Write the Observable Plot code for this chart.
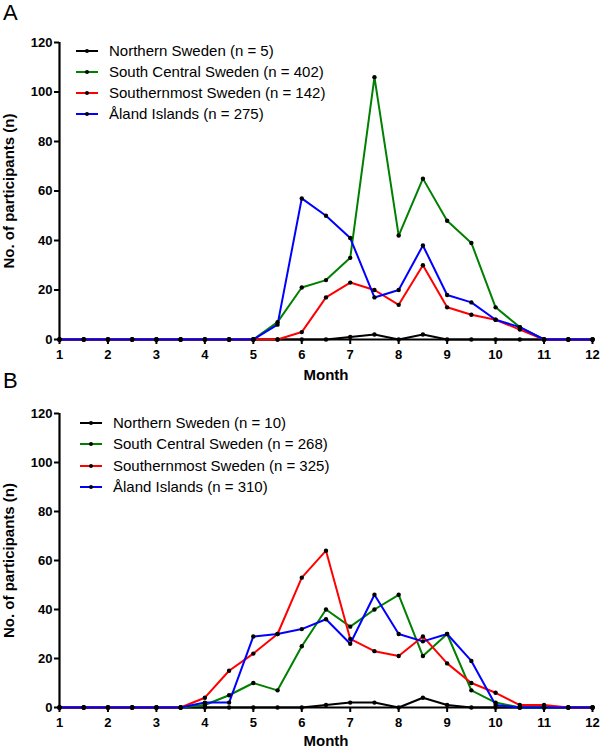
<!DOCTYPE html>
<html><head><meta charset="utf-8">
<script src="https://cdn.jsdelivr.net/npm/d3@7"></script>
<script src="https://cdn.jsdelivr.net/npm/@observablehq/plot@0.6"></script>
<style>
body{margin:0;background:#fff;font-family:"Liberation Sans",Arial,sans-serif;}
#root{position:relative;width:600px;height:749px;overflow:hidden;background:#fff;}
.panel{position:absolute;left:0;}
.panel svg text{font-weight:bold;}
.panel g[aria-label="x-axis label"] text,.panel g[aria-label="y-axis label"] text{font-size:15px;}
.letter{position:absolute;left:3px;font-size:22px;line-height:1;}
.legend-row{position:absolute;height:20px;display:flex;align-items:center;font-size:15px;white-space:nowrap;color:#000;}
.legend-row svg{margin-right:11px;}
</style></head><body><div id="root"></div>
<script>
const months = [1,1.5,2,2.5,3,3.5,4,4.5,5,5.5,6,6.5,7,7.5,8,8.5,9,9.5,10,10.5,11,11.5,12];
const xTicks = [1,2,3,4,5,6,7,8,9,10,11,12];
const yTicks = [0,20,40,60,80,100,120];
const seriesColors = ["#000000","#008000","#ff0000","#0000ff"];
const namesA = ["Northern Sweden (n = 5)","South Central Sweden (n = 402)","Southernmost Sweden (n = 142)","Åland Islands (n = 275)"];
const namesB = ["Northern Sweden (n = 10)","South Central Sweden (n = 268)","Southernmost Sweden (n = 325)","Åland Islands (n = 310)"];

const aNorthern     = [0,0,0,0,0,0,0,0,0,0,0,0,1,2,0,2,0,0,0,0,0,0,0];
const aSouthCentral = [0,0,0,0,0,0,0,0,0,7,21,24,33,106,42,65,48,39,13,5,0,0,0];
const aSouthernmost = [0,0,0,0,0,0,0,0,0,0,3,17,23,20,14,30,13,10,8,4,0,0,0];
const aAland        = [0,0,0,0,0,0,0,0,0,6,57,50,41,17,20,38,18,15,8,5,0,0,0];

const bNorthern     = [0,0,0,0,0,0,0,0,0,0,0,1,2,2,0,4,1,0,0,0,0,0,0];
const bSouthCentral = [0,0,0,0,0,0,1,5,10,7,25,40,33,40,46,21,30,7,2,0,0,0,0];
const bSouthernmost = [0,0,0,0,0,0,4,15,22,30,53,64,28,23,21,29,18,10,6,1,1,0,0];
const bAland        = [0,0,0,0,0,0,2,2,29,30,32,36,26,46,30,27,30,19,1,0,0,0,0];

function table(names, arrays) {
  const rows = [];
  names.forEach((name, i) => arrays[i].forEach((v, j) => rows.push({series: name, month: months[j], value: v})));
  return rows;
}

function panel(names, arrays, {height, marginTop, marginBottom, labelOffset}) {
  const data = table(names, arrays);
  return Plot.plot({
    width: 600, height, marginLeft: 59, marginRight: 8, marginTop, marginBottom,
    style: {fontFamily: '"Liberation Sans", Arial, sans-serif', fontSize: "13px", overflow: "visible", background: "transparent"},
    x: {domain: [1, 12]},
    y: {domain: [0, 120]},
    color: {domain: names, range: seriesColors},
    marks: [
      Plot.axisX({ticks: xTicks, tickSize: 5, tickPadding: 5, strokeWidth: 2, tickFormat: d => String(d),
        label: "Month", labelAnchor: "center", labelArrow: "none", labelOffset}),
      Plot.axisY({ticks: yTicks, tickSize: 5, tickPadding: 2, strokeWidth: 2,
        label: "No. of participants (n)", labelAnchor: "center", labelArrow: "none", labelOffset: 56}),
      Plot.ruleX([1], {strokeWidth: 2.2}),
      Plot.ruleY([0], {strokeWidth: 2.2}),
      Plot.line(data, {x: "month", y: "value", z: "series", stroke: "series", strokeWidth: 2}),
      Plot.dot(data, {x: "month", y: "value", r: 2.2, fill: "black"})
    ]
  });
}

const root = document.getElementById("root");

function addPanel(top, names, arrays, opts, letter, letterTop, legendX, legendTops) {
  const wrap = document.createElement("div");
  wrap.className = "panel";
  wrap.style.top = top + "px";
  wrap.appendChild(panel(names, arrays, opts));
  root.appendChild(wrap);
  const l = document.createElement("div");
  l.className = "letter";
  l.style.top = letterTop + "px";
  l.textContent = letter;
  root.appendChild(l);
  names.forEach((name, i) => {
    const row = document.createElement("div");
    row.className = "legend-row";
    row.style.left = legendX + "px";
    row.style.top = legendTops[i] + "px";
    const ns = "http://www.w3.org/2000/svg";
    const s = document.createElementNS(ns, "svg");
    s.setAttribute("width", "22"); s.setAttribute("height", "20");
    const ln = document.createElementNS(ns, "line");
    ln.setAttribute("x1", "0"); ln.setAttribute("x2", "22"); ln.setAttribute("y1", "11"); ln.setAttribute("y2", "11");
    ln.setAttribute("stroke", seriesColors[i]); ln.setAttribute("stroke-width", "2");
    const c = document.createElementNS(ns, "circle");
    c.setAttribute("cx", "11"); c.setAttribute("cy", "11"); c.setAttribute("r", "2"); c.setAttribute("fill", "#000");
    s.appendChild(ln); s.appendChild(c);
    row.appendChild(s);
    const t = document.createElement("span");
    t.textContent = name;
    row.appendChild(t);
    root.appendChild(row);
  });
}

addPanel(0, namesA, [aNorthern, aSouthCentral, aSouthernmost, aAland],
  {height: 385, marginTop: 42, marginBottom: 46, labelOffset: 40}, "A", 2, 76, [40, 61, 82, 103]);
addPanel(385, namesB, [bNorthern, bSouthCentral, bSouthernmost, bAland],
  {height: 364, marginTop: 28, marginBottom: 42, labelOffset: 38}, "B", 370, 80, [412, 433, 455, 476]);
</script></body></html>
